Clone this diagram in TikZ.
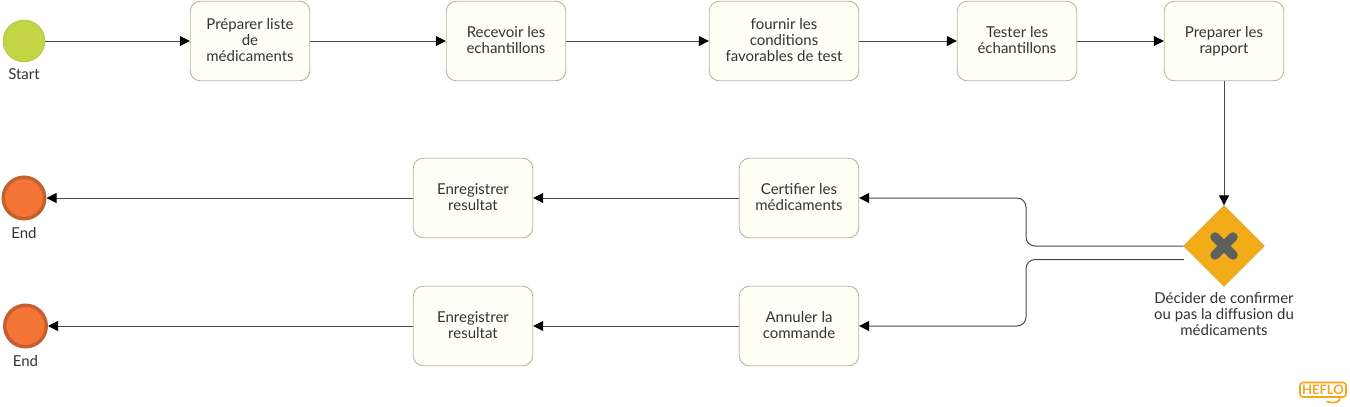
\documentclass[tikz,border=0pt]{standalone}
\usepackage{fontspec}
\setmainfont{Lato}
\usetikzlibrary{arrows.meta, shapes.geometric}
\definecolor{taskfill}{HTML}{FFFFF6}
\definecolor{taskedge}{HTML}{B5B5A6}
\definecolor{startfill}{HTML}{C3D545}
\definecolor{endfill}{HTML}{F47535}
\definecolor{endedge}{HTML}{C55F30}
\definecolor{gatefill}{HTML}{F2AC18}
\definecolor{gateedge}{HTML}{D08A1A}
\definecolor{flowline}{HTML}{4A4A4A}
\definecolor{labeltext}{HTML}{333333}
\definecolor{crossgray}{HTML}{5F5F5F}
\definecolor{logoorange}{HTML}{F2A71B}
\tikzset{
  task/.style={draw=taskedge, line width=0.9pt, fill=taskfill, rounded corners=10pt, minimum width=119.5pt,
    minimum height=79.5pt, inner sep=2pt, align=center, text=labeltext, font=\fontsize{15}{16}\selectfont},
  startev/.style={circle, draw=startfill!85!black, fill=startfill, minimum size=42pt, inner sep=0pt},
  endev/.style={circle, draw=endedge, line width=3.5pt, fill=endfill, minimum size=41.5pt, inner sep=0pt},
  gate/.style={diamond, draw=gateedge, fill=gatefill, minimum size=81pt, inner sep=0pt},
  evlabel/.style={text=labeltext, align=center, inner sep=0pt, font=\fontsize{15}{16}\selectfont},
  flow/.style={draw=flowline, line width=1pt, -{Triangle[length=10pt,width=10pt,color=black]}}
}
\begin{document}
\begin{tikzpicture}[x=1pt, y=-1pt]
    \useasboundingbox (0,0) rectangle (1350,407);
    % top row
    \node[startev] (start) at (24,41) {};
    \node[evlabel] (startlabel) at (24,74) {Start};
    \node[task] (liste) at (250,41) {Préparer liste\\de\\médicaments\\[-14pt]};
    \node[task] (recevoir) at (506,41) {Recevoir les\\echantillons\\[-14pt]};
    \node[task, minimum width=149.5pt] (fournir) at (784,41) {fournir les\\conditions\\favorables de test\\[-14pt]};
    \node[task] (tester) at (1017,41) {Tester les\\échantillons\\[-14pt]};
    \node[task] (rapport) at (1224,41) {Preparer les\\rapport\\[-14pt]};
    % gateway
    \node[gate] (decider) at (1224,246) {};
    \draw[crossgray, line width=9.5pt, line cap=round]
      (decider.center) ++(-9,-9) -- ++(18,18)
      (decider.center) ++(9,-9) -- ++(-18,18);
    \node[evlabel] (deciderlabel) at (1224,314) {Décider de confirmer\\ou pas la diffusion du\\médicaments};
    % lower rows
    \node[task] (certifier) at (799,198) {Certifier les\\médicaments\\[-14pt]};
    \node[task] (resultat) at (473,198) {Enregistrer\\resultat\\[-14pt]};
    \node[endev] (endok) at (24,198) {};
    \node[evlabel] (endoklabel) at (24,233) {End};
    \node[task] (annuler) at (799,326) {Annuler la\\commande\\[-14pt]};
    \node[task] (resultatb) at (473,326) {Enregistrer\\resultat\\[-14pt]};
    \node[endev] (endno) at (25.5,326) {};
    \node[evlabel] (endnolabel) at (25.5,361) {End};
    % flows
    \foreach \a/\b in {start/liste, liste/recevoir, recevoir/fournir, fournir/tester, tester/rapport,
      rapport/decider, certifier/resultat, resultat/endok, annuler/resultatb, resultatb/endno} {
      \draw[flow] (\a) -- (\b);
    }
    \coordinate (gatelow) at (1184,259.5);
    \draw[flow, rounded corners=9pt] (decider.west) -- (1026,246) -- (1026,198) -- (certifier.east);
    \draw[flow, rounded corners=9pt] (gatelow) -- (1026,259.5) -- (1026,326) -- (annuler.east);
    % logo
    \draw[logoorange, line width=1.6pt, rounded corners=3pt]
      (1300,382.5) rectangle (1346,397);
    \draw[logoorange, line width=1.6pt, line cap=round] (1327,401.5) .. controls (1336,404) and (1340,402) .. (1340,397);
    \node[inner sep=0pt, text=logoorange, font=\fontsize{13}{13}\selectfont\bfseries] (logo) at (1323,390) {HEFLO};
\end{tikzpicture}
\end{document}
